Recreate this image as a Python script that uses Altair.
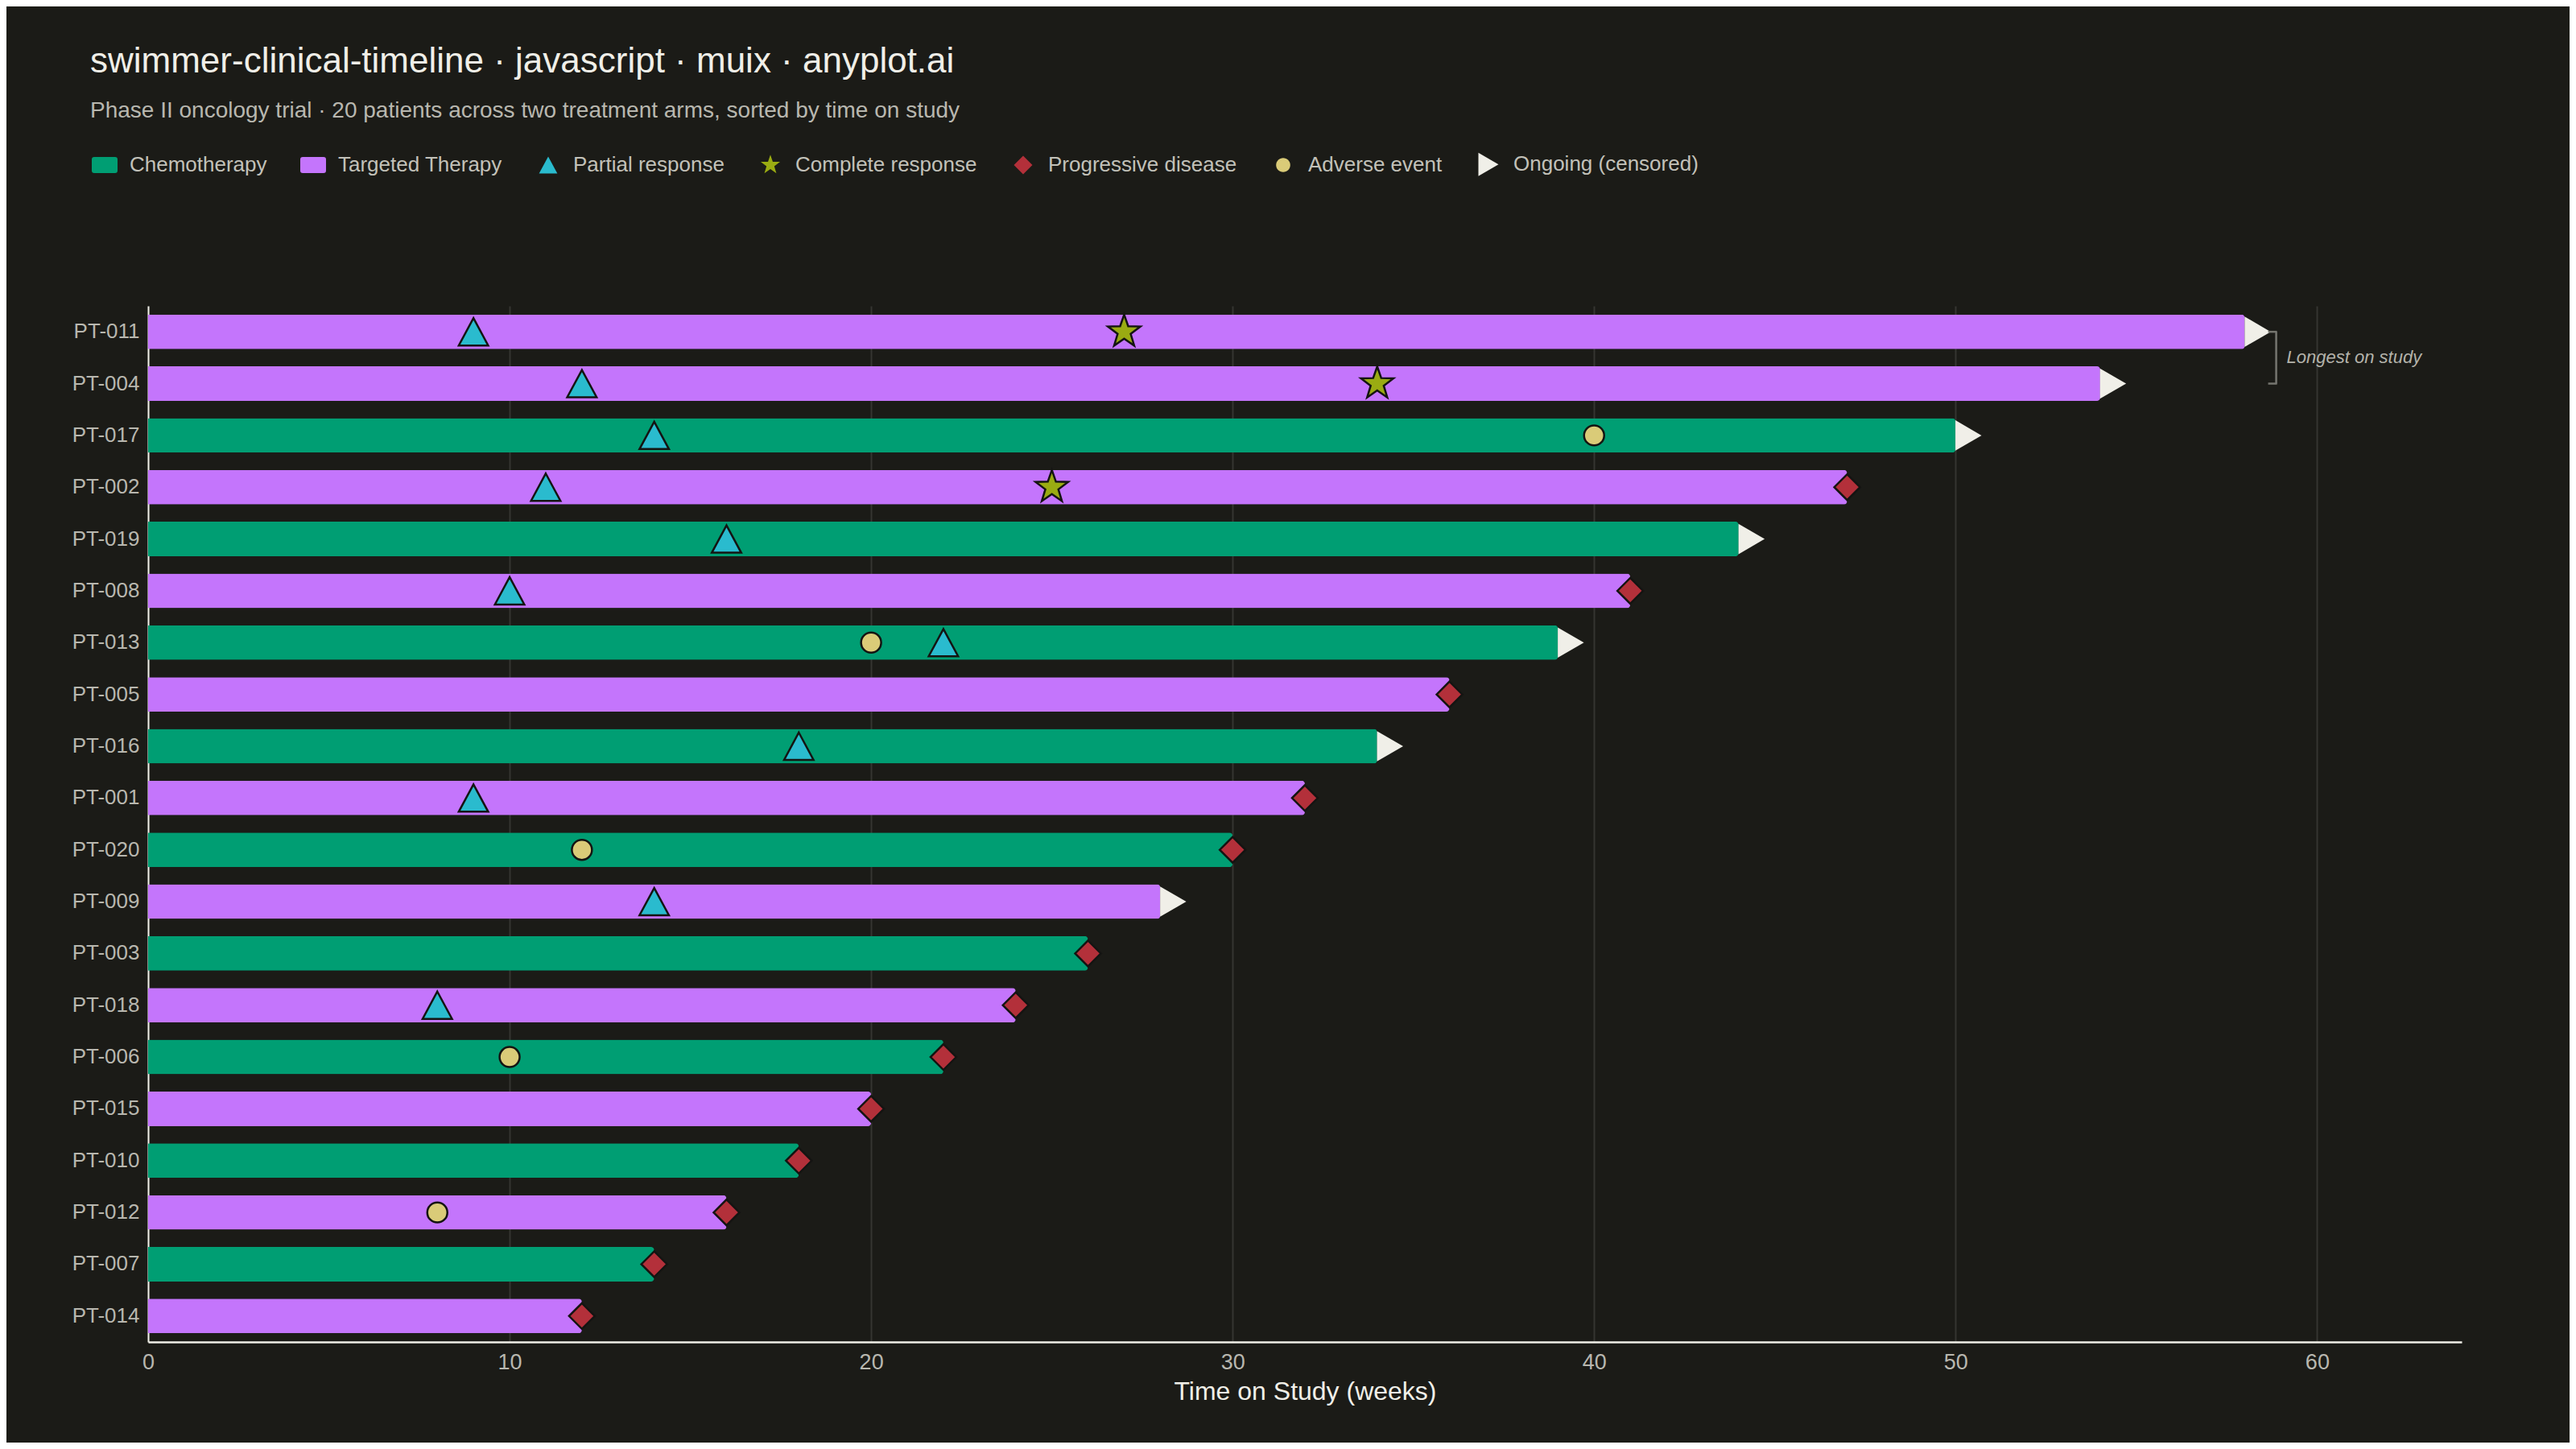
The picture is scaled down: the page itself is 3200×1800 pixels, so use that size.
import altair as alt
import pandas as pd

# ---------------- data ----------------
patients = ["PT-011", "PT-004", "PT-017", "PT-002", "PT-019", "PT-008", "PT-013",
            "PT-005", "PT-016", "PT-001", "PT-020", "PT-009", "PT-003", "PT-018",
            "PT-006", "PT-015", "PT-010", "PT-012", "PT-007", "PT-014"]
arms = ["Targeted Therapy", "Targeted Therapy", "Chemotherapy", "Targeted Therapy",
        "Chemotherapy", "Targeted Therapy", "Chemotherapy", "Targeted Therapy",
        "Chemotherapy", "Targeted Therapy", "Chemotherapy", "Targeted Therapy",
        "Chemotherapy", "Targeted Therapy", "Chemotherapy", "Targeted Therapy",
        "Chemotherapy", "Targeted Therapy", "Chemotherapy", "Targeted Therapy"]
weeks_on_study = [58, 54, 50, 47, 44, 41, 39, 36, 34, 32, 30, 28, 26, 24, 22, 20, 18, 16, 14, 12]
ongoing = [True, True, True, False, True, False, True, False, True, False,
           False, True, False, False, False, False, False, False, False, False]

pr_patients = ["PT-011", "PT-004", "PT-017", "PT-002", "PT-019", "PT-008",
               "PT-013", "PT-016", "PT-001", "PT-009", "PT-018"]
pr_weeks = [9, 12, 14, 11, 16, 10, 22, 18, 9, 14, 8]
cr_patients = ["PT-011", "PT-004", "PT-002"]
cr_weeks = [27, 34, 25]
ae_patients = ["PT-017", "PT-013", "PT-020", "PT-006", "PT-012"]
ae_weeks = [40, 20, 12, 10, 8]

legend_keys = ["Chemotherapy", "Targeted Therapy", "Partial response",
               "Complete response", "Progressive disease", "Adverse event",
               "Ongoing (censored)"]
event_keys = ["Partial response", "Complete response", "Progressive disease", "Adverse event"]

# ---------------- styles ----------------
BG = "#1b1b17"
INK = "#f0efe8"
INK_SOFT = "#b8b7af"
GRID = "#353531"
FONT = "Liberation Sans"

key_colors = ["#009E73", "#C475FC", "#2ABBCE", "#9AAB12", "#B3303A", "#DACB78", "#F0EFE8"]

RECT = ("M-0.81,-0.625 L0.81,-0.625 Q1,-0.625 1,-0.435 L1,0.435 Q1,0.625 0.81,0.625 "
        "L-0.81,0.625 Q-1,0.625 -1,0.435 L-1,-0.435 Q-1,-0.625 -0.81,-0.625 Z")
TRI_UP = "M0,-0.66 L0.71,0.66 L-0.71,0.66 Z"
STAR = ("M0,-0.79 L0.186,-0.256 L0.751,-0.244 L0.301,0.098 L0.464,0.639 L0,0.316 "
        "L-0.464,0.639 L-0.301,0.098 L-0.751,-0.244 L-0.186,-0.256 Z")
DIAMOND = "M0,-0.72 L0.72,0 L0,0.72 L-0.72,0 Z"
CIRCLE = "M0.55,0 A0.55,0.55 0 1,1 -0.55,0 A0.55,0.55 0 1,1 0.55,0 Z"
TRI_RIGHT = "M-0.78,-0.906 L0.78,0 L-0.78,0.906 Z"
key_shapes = [RECT, RECT, TRI_UP, STAR, DIAMOND, CIRCLE, TRI_RIGHT]
event_sizes = [2650, 2900, 1975, 2060]

# ---------------- tables ----------------
bars = pd.DataFrame({"patient": patients, "key": arms, "end": weeks_on_study, "ongoing": ongoing})

pd_rows = [(p, w) for p, w, o in zip(patients, weeks_on_study, ongoing) if not o]
events = pd.concat([
    pd.DataFrame({"patient": pr_patients, "week": pr_weeks, "key": "Partial response"}),
    pd.DataFrame({"patient": cr_patients, "week": cr_weeks, "key": "Complete response"}),
    pd.DataFrame({"patient": ae_patients, "week": ae_weeks, "key": "Adverse event"}),
    pd.DataFrame({"patient": [r[0] for r in pd_rows], "week": [r[1] for r in pd_rows],
                  "key": "Progressive disease"}),
], ignore_index=True)

annot = pd.DataFrame({"top": [patients[0]], "bottom": [patients[1]],
                      "week": [weeks_on_study[0]], "label": ["Longest on study"]})

# ---------------- scales ----------------
x_scale = alt.Scale(domain=[0, 64], nice=False, zero=True)
y_scale = alt.Scale(domain=patients, paddingInner=0.332, paddingOuter=0.166)
color_scale = alt.Scale(domain=legend_keys, range=key_colors)
shape_scale = alt.Scale(domain=legend_keys, range=key_shapes)
size_scale = alt.Scale(type="ordinal", domain=event_keys, range=event_sizes)

legend = alt.Legend(
    title=None, orient="none", legendX=-70, legendY=-192, direction="horizontal",
    columns=7, symbolSize=1024, symbolStrokeWidth=0, labelFontSize=26,
    labelColor="#c2c1b9", labelFont=FONT, labelOffset=15, columnPadding=41,
    padding=0, labelLimit=600,
)

x_axis = alt.Axis(
    values=[0, 10, 20, 30, 40, 50, 60], title="Time on Study (weeks)", grid=True,
    gridColor=GRID, gridWidth=2, ticks=False, domainColor=INK, domainWidth=2.5,
    labelColor=INK_SOFT, labelFontSize=27, labelPadding=12, labelFont=FONT,
    labelFlush=False,
    titleColor=INK, titleFontSize=32, titleFontWeight="normal", titlePadding=8,
    titleFont=FONT,
)
y_axis = alt.Axis(
    title=None, ticks=False, domainColor=INK, domainWidth=2, labelColor=INK_SOFT,
    labelFontSize=26, labelPadding=11, labelFont=FONT, grid=False,
)

bar_layer = alt.Chart(bars).mark_bar(cornerRadiusEnd=4).encode(
    x=alt.X("end:Q", scale=x_scale, axis=x_axis),
    y=alt.Y("patient:N", scale=y_scale, axis=y_axis),
    color=alt.Color("key:N", scale=color_scale, legend=legend),
)

arrow_layer = alt.Chart(bars).transform_filter("datum.ongoing").mark_point(
    filled=True, shape=TRI_RIGHT, size=1731, xOffset=16, color="#F0EFE8",
    opacity=1, strokeWidth=0,
).encode(
    x=alt.X("end:Q", scale=x_scale),
    y=alt.Y("patient:N", scale=y_scale),
)

event_layer = alt.Chart(events).mark_point(
    filled=True, opacity=1, stroke="#141412", strokeWidth=2.5,
).encode(
    x=alt.X("week:Q", scale=x_scale),
    y=alt.Y("patient:N", scale=y_scale),
    color=alt.Color("key:N", scale=color_scale, legend=legend),
    shape=alt.Shape("key:N", scale=shape_scale, legend=legend),
    size=alt.Size("key:N", scale=size_scale, legend=None),
)

bracket = alt.Chart(annot).mark_rule(color="#75756f", strokeWidth=2.5, xOffset=39).encode(
    x=alt.X("week:Q", scale=x_scale),
    y=alt.Y("top:N", scale=y_scale),
    y2="bottom:N",
)
tick_top = alt.Chart(annot).mark_rule(color="#75756f", strokeWidth=2.5, xOffset=29, x2Offset=40).encode(
    x=alt.X("week:Q", scale=x_scale),
    x2="week:Q",
    y=alt.Y("top:N", scale=y_scale),
)
tick_bottom = alt.Chart(annot).mark_rule(color="#75756f", strokeWidth=2.5, xOffset=29, x2Offset=40).encode(
    x=alt.X("week:Q", scale=x_scale),
    x2="week:Q",
    y=alt.Y("bottom:N", scale=y_scale),
)
annot_text = alt.Chart(annot).mark_text(
    align="left", baseline="middle", xOffset=52, yOffset=32, fontSize=22,
    fontStyle="italic", color="#b3b2aa", font=FONT,
).encode(
    x=alt.X("week:Q", scale=x_scale),
    y=alt.Y("top:N", scale=y_scale),
    text="label:N",
)

chart = alt.layer(
    bar_layer, arrow_layer, event_layer, bracket, tick_top, tick_bottom, annot_text
).properties(
    width=2874,
    height=1287,
    background=BG,
    padding={"left": 176, "top": 372, "right": 134, "bottom": 125},
    autosize=alt.AutoSizeParams(type="none"),
    title=alt.TitleParams(
        text="swimmer-clinical-timeline · javascript · muix · anyplot.ai",
        subtitle="Phase II oncology trial · 20 patients across two treatment arms, sorted by time on study",
        anchor="start", frame="group", dx=-72, dy=-16, fontSize=44, subtitleFontSize=28,
        font=FONT, subtitleFont=FONT, fontWeight="normal", color=INK,
        subtitleColor=INK_SOFT, subtitlePadding=25, offset=20,
    ),
).configure_view(stroke=None)

chart.save("out.html", embed_options={"renderer": "svg", "actions": False})
